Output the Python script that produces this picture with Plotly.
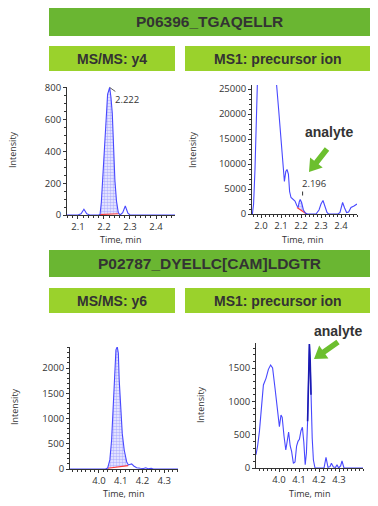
import plotly.graph_objects as go
import numpy as np

W, H = 378, 506

# ---------------- data ----------------
# Panel 1: P06396_TGAQELLR, MS/MS y4
t1 = [2.058, 2.100, 2.112, 2.123, 2.134, 2.145, 2.180, 2.185, 2.190, 2.195, 2.202, 2.208, 2.214,
      2.222, 2.227, 2.232, 2.237, 2.242, 2.248, 2.255, 2.262, 2.272, 2.282, 2.292, 2.300, 2.477]
i1 = [0, 0, 8, 36, 8, 0, 0, 5, 80, 220, 430, 640, 760,
      803, 740, 640, 430, 220, 90, 15, 0, 15, 57, 12, 0, 0]
peak1 = 2.222
base1_t = [2.183, 2.257]
base1_i = [3, 8]

# Panel 2: P06396_TGAQELLR, MS1 precursor ion
t2 = [1.957, 1.963, 1.970, 1.977, 1.984, 1.995, 2.020, 2.050, 2.070, 2.078, 2.088, 2.098, 2.108,
      2.117, 2.124, 2.130, 2.137, 2.143, 2.150, 2.160, 2.170, 2.180, 2.186, 2.191, 2.196, 2.203,
      2.212, 2.222, 2.232, 2.275, 2.290, 2.300, 2.310, 2.320, 2.330, 2.338, 2.360, 2.375, 2.385,
      2.395, 2.400, 2.408, 2.418, 2.428, 2.438, 2.450, 2.465, 2.480]
i2 = [0, 2000, 9000, 18000, 27000, 45000, 70000, 60000, 35000, 25800, 21000, 16000, 10000,
      6500, 8500, 8900, 8000, 4500, 3300, 3000, 2600, 1600, 1400, 2400, 2900, 2300,
      800, 200, 0, 0, 800, 2000, 2700, 1500, 300, 0, 0, 150, 0,
      300, 1000, 2300, 1200, 300, 400, 1300, 1600, 2000]
peak2 = 2.196
base2_t = [2.180, 2.228]
base2_i = [1300, 0]

# Panel 3: P02787_DYELLC[CAM]LDGTR, MS/MS y6
t3 = [3.867, 4.030, 4.040, 4.050, 4.058, 4.066, 4.073, 4.078, 4.084, 4.089, 4.093, 4.100, 4.107,
      4.116, 4.127, 4.135, 4.143, 4.150, 4.160, 4.173, 4.190, 4.205, 4.215, 4.225, 4.240, 4.250, 4.364]
i3 = [0, 0, 20, 180, 570, 1230, 2030, 2360, 2420, 2290, 1760, 1230, 700,
      376, 145, 80, 95, 100, 60, 26, 15, 10, 25, 5, 15, 0, 0]
peak3 = 4.084
base3_t = [4.040, 4.134]
base3_i = [15, 65]

# Panel 4: P02787_DYELLC[CAM]LDGTR, MS1 precursor ion
t4 = [3.885, 3.893, 3.902, 3.913, 3.922, 3.935, 3.947, 3.958, 3.968, 3.980, 3.992, 4.002, 4.010,
      4.016, 4.025, 4.034, 4.042, 4.048, 4.056, 4.063, 4.072, 4.080, 4.088, 4.095, 4.102, 4.110,
      4.117, 4.124, 4.131, 4.137, 4.143, 4.148, 4.152, 4.156, 4.160, 4.166, 4.172, 4.180, 4.225,
      4.235, 4.245, 4.255, 4.262, 4.272, 4.283, 4.290, 4.298, 4.308, 4.315, 4.325, 4.420]
i4 = [200, 330, 545, 995, 1245, 1345, 1480, 1545, 1500, 1200, 850, 620, 795,
      760, 480, 270, 420, 540, 330, 250, 70, 90, 330, 400, 430, 560,
      610, 390, 50, 220, 700, 1400, 1860, 1600, 1100, 450, 120, 0, 0,
      160, 10, 20, 70, 15, 10, 50, 0, 30, 105, 0, 0]
peak4 = 4.155
analyte4_t = [4.143, 4.160]

titles = ["P06396_TGAQELLR", "P02787_DYELLC[CAM]LDGTR"]
subtitles = ["MS/MS: y4", "MS1: precursor ion", "MS/MS: y6", "MS1: precursor ion"]
xticks = [[2.1, 2.2, 2.3, 2.4], [2.0, 2.1, 2.2, 2.3, 2.4], [4.0, 4.1, 4.2, 4.3], [4.0, 4.1, 4.2, 4.3]]
yticks = [[0, 200, 400, 600, 800], [0, 5000, 10000, 15000, 20000, 25000],
          [0, 500, 1000, 1500, 2000], [0, 500, 1000, 1500]]

# ---------------- layout helpers ----------------
def PX(x):
    return x / W

def PY(y):
    return 1 - y / H

LINE = "#4848ff"
DARK = "#333333"
RED = "#ff3b3b"
FONT = "Open Sans"

boxes = [(67, 175, 87, 215), (252, 357, 85, 214), (70, 178, 347, 469), (256, 363, 343, 468)]
xranges = [[2.058, 2.473], [1.955, 2.480], [3.867, 4.363], [3.885, 4.420]]
yranges = [[0, 806], [0, 25800], [0, 2416], [0, 1875]]
yminor = [50, 1000, 100, 100]

fig = go.Figure()

series = [(t1, i1), (t2, i2), (t3, i3), (t4, i4)]
fills = [(base1_t, base1_i), (base2_t, base2_i), (base3_t, base3_i), None]
peaks = [peak1, peak2, peak3, peak4]

for k in range(4):
    xa = "x" if k == 0 else f"x{k+1}"
    ya = "y" if k == 0 else f"y{k+1}"
    t = np.array(series[k][0], dtype=float)
    v = np.array(series[k][1], dtype=float)
    if fills[k] is not None:
        bt, bi = fills[k]
        m = (t > bt[0]) & (t < bt[1])
        ft = [bt[0]] + list(t[m]) + [bt[1], bt[1], bt[0]]
        fv = [float(np.interp(bt[0], t, v))] + list(v[m]) + [float(np.interp(bt[1], t, v)), bi[1], bi[0]]
        fig.add_trace(go.Scatter(x=ft, y=fv, xaxis=xa, yaxis=ya, mode="lines", fill="toself",
                                 fillcolor="#eeeeff",
                                 fillpattern=dict(shape=".", fgcolor="#7b7bff", bgcolor="#f2f2ff",
                                                  size=3, solidity=0.55),
                                 line=dict(width=0), hoverinfo="skip", showlegend=False))
        fig.add_trace(go.Scatter(x=bt, y=bi, xaxis=xa, yaxis=ya, mode="lines",
                                 line=dict(color=RED, width=1.2), showlegend=False))
    fig.add_trace(go.Scatter(x=t, y=v, xaxis=xa, yaxis=ya, mode="lines",
                             line=dict(color=LINE, width=1.1), showlegend=False))
    if k == 3:
        m = (t >= analyte4_t[0]) & (t <= analyte4_t[1])
        fig.add_trace(go.Scatter(x=t[m], y=v[m], xaxis=xa, yaxis=ya, mode="lines",
                                 line=dict(color="#1a1ab0", width=1.6), showlegend=False))
    # blue arrow marker under the axis
    neg = -yranges[k][1] * 4.5 / (boxes[k][3] - boxes[k][2])
    fig.add_trace(go.Scatter(x=[peaks[k]], y=[neg], xaxis=xa, yaxis=ya, mode="markers",
                             marker=dict(symbol="arrow-up", size=8, color="#000090"),
                             cliponaxis=False, showlegend=False))

layout = dict(width=W, height=H, margin=dict(l=0, r=0, t=0, b=0, pad=0, autoexpand=False),
              autosize=False,
              paper_bgcolor="white", plot_bgcolor="white", showlegend=False,
              font=dict(family=FONT, color=DARK))

for k in range(4):
    x0, x1, y0, y1 = boxes[k]
    xname = "xaxis" if k == 0 else f"xaxis{k+1}"
    yname = "yaxis" if k == 0 else f"yaxis{k+1}"
    yid = "y" if k == 0 else f"y{k+1}"
    xid = "x" if k == 0 else f"x{k+1}"
    layout[xname] = dict(domain=[PX(x0), PX(x1)], range=xranges[k], anchor=yid, automargin=False,
                         showline=True, linecolor=DARK, linewidth=1, ticks="outside", ticklen=3,
                         tickcolor=DARK, tickvals=xticks[k], ticktext=[f"{v:.1f}" for v in xticks[k]],
                         tickfont=dict(size=9.5, color=DARK, family=FONT), showgrid=False,
                         zeroline=False, fixedrange=True,
                         minor=dict(ticks="outside", ticklen=2, dtick=0.02, tickcolor=DARK))
    layout[yname] = dict(domain=[PY(y1), PY(y0)], range=yranges[k], anchor=xid, automargin=False,
                         showline=True, linecolor=DARK, linewidth=1, ticks="outside", ticklen=3,
                         tickcolor=DARK, tickvals=yticks[k], ticktext=[str(v) for v in yticks[k]],
                         tickfont=dict(size=9.5, color=DARK, family=FONT), showgrid=False,
                         zeroline=False, fixedrange=True,
                         minor=dict(ticks="outside", ticklen=2, dtick=yminor[k], tickcolor=DARK))

fig.update_layout(**layout)

shapes = []
ann = []

def text_at(xx, yy, text, size, family=FONT, angle=0):
    ann.append(dict(xref="paper", yref="paper", x=PX(xx), y=PY(yy), text=text,
                    showarrow=False, xanchor="center", yanchor="middle", textangle=angle,
                    font=dict(family=family, size=size, color=DARK)))

# banners
def banner(x0, x1, y0, y1, color, text, size):
    shapes.append(dict(type="rect", xref="paper", yref="paper", x0=PX(x0), x1=PX(x1),
                       y0=PY(y1), y1=PY(y0), fillcolor=color, line=dict(width=0), layer="below"))
    text_at((x0 + x1) / 2, (y0 + y1) / 2, f"<b>{text}</b>", size, "Liberation Sans")

DG = "#6ab632"
LG = "#9ad22c"
banner(49, 370, 8, 36, DG, titles[0], 15.5)
banner(49, 175, 46, 71, LG, subtitles[0], 14)
banner(185, 370, 46, 71, LG, subtitles[1], 14)
banner(49, 370, 250, 277, DG, titles[1], 15.5)
banner(49, 175, 288, 313, LG, subtitles[2], 14)
banner(185, 370, 288, 313, LG, subtitles[3], 14)

# axis titles
for (xx, yy) in [(120, 240), (302, 240), (123, 493), (309, 493)]:
    text_at(xx, yy, "Time, min", 9)
for (xx, yy) in [(12, 150), (192, 150), (14, 407), (200, 405)]:
    text_at(xx, yy, "Intensity", 9, angle=-90)

# peak labels
ann.append(dict(xref="x", yref="y", x=peak1, y=803, text="2.222", showarrow=True, arrowhead=0,
                arrowwidth=0.8, arrowcolor=DARK, ax=17, ay=12,
                font=dict(size=9.5, color=DARK, family=FONT)))
ann.append(dict(xref="x3", yref="y3", x=peak3, y=2420, text="4.084", showarrow=True, arrowhead=0,
                arrowwidth=0.8, arrowcolor=DARK, ax=18, ay=10,
                font=dict(size=9.5, color=DARK, family=FONT)))
ann.append(dict(xref="x2", yref="y2", x=peak2, y=2900, text="2.196", showarrow=False,
                xanchor="left", yanchor="bottom", xshift=0, yshift=8,
                font=dict(size=9.5, color=DARK, family=FONT)))
shapes.append(dict(type="line", xref="x2", yref="y2", x0=peak2 + 0.012, x1=peak2 + 0.012,
                   ysizemode="pixel", yanchor=2900, y0=4, y1=8, line=dict(color=DARK, width=1)))

# analyte labels + green arrows
for (xx, yy) in [(329, 132), (337.5, 331)]:
    text_at(xx, yy, "<b>analyte</b>", 14, "Liberation Sans")

def arrow_path(tail, tip, hw=2.8, hh=8, hl=12):
    tx, ty = tail
    px_, py_ = tip
    dx, dy = px_ - tx, py_ - ty
    L = (dx * dx + dy * dy) ** 0.5
    ux, uy = dx / L, dy / L
    nx, ny = -uy, ux
    bx, by = px_ - ux * hl, py_ - uy * hl
    pts = [(tx + nx * hw, ty + ny * hw), (bx + nx * hw, by + ny * hw), (bx + nx * hh, by + ny * hh),
           (px_, py_), (bx - nx * hh, by - ny * hh), (bx - nx * hw, by - ny * hw),
           (tx - nx * hw, ty - ny * hw)]
    d = "M " + " L ".join(f"{PX(a):.5f},{PY(b):.5f}" for a, b in pts) + " Z"
    return d

for tail, tip in [((327, 149), (309, 172)), ((338, 342), (314, 359))]:
    shapes.append(dict(type="path", xref="paper", yref="paper", path=arrow_path(tail, tip),
                       fillcolor="#6cbf2e", line=dict(width=0)))

fig.update_layout(shapes=shapes, annotations=ann)
fig.write_html("out.html", config={"displayModeBar": False},
               post_script="document.body.style.margin='0px';document.body.style.overflow='hidden';")
